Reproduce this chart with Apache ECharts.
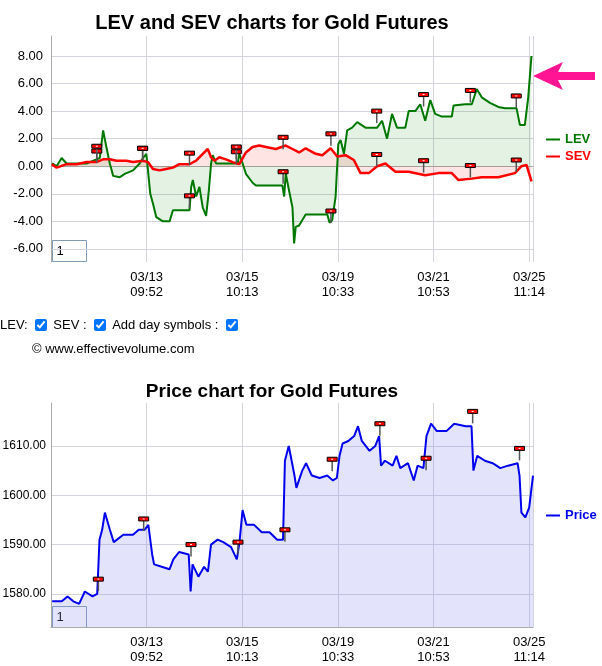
<!DOCTYPE html>
<html>
<head>
<meta charset="utf-8">
<script src="https://cdn.jsdelivr.net/npm/echarts@6/dist/echarts.min.js"></script>
<style>
body { margin: 0; background: #fff; font-family: "Liberation Sans", sans-serif; }
#chart { width: 602px; height: 666px; }
#ctrl { position: absolute; left: 0; top: 317px; font-size: 13px; color: #000; }
#ctrl input { margin: 0 6px 0 4px; width: 12px; height: 12px; vertical-align: -2px; }
#copy { position: absolute; left: 32px; top: 341px; font-size: 13px; }
</style>
</head>
<body>
<div id="chart"></div>
<div id="ctrl">LEV: <input type="checkbox" checked>SEV : <input type="checkbox" checked>Add day symbols : <input type="checkbox" checked></div>
<div id="copy">© www.effectivevolume.com</div>
<script>
// x axis positions are in "tick units" (0 = left edge, 1 = 03/13 ...)
const tickLabels = ['03/13\n09:52', '03/15\n10:13', '03/19\n10:33', '03/21\n10:53', '03/25\n11:14'];
const levTicks = [-6, -4, -2, 0, 2, 4, 6, 8];
const priceTicks = [1580, 1590, 1600, 1610];

const levX = [0.01,0.059,0.111,0.163,0.268,0.372,0.476,0.51,0.545,0.573,0.615,0.65,0.719,0.771,0.858,0.927,0.962,0.997,1.014,1.038,1.066,1.101,1.17,1.24,1.275,1.344,1.448,1.466,1.483,1.518,1.552,1.587,1.622,1.65,1.674,1.691,1.726,1.83,1.9,1.952,1.969,2.004,2.038,2.108,2.143,2.247,2.42,2.438,2.455,2.49,2.525,2.542,2.559,2.594,2.663,2.889,2.913,2.941,2.976,3.004,3.028,3.063,3.097,3.149,3.202,3.288,3.41,3.462,3.514,3.566,3.618,3.705,3.74,3.809,3.861,3.913,3.966,4.017,4.087,4.191,4.209,4.33,4.4,4.452,4.504,4.59,4.677,4.747,4.868,4.903,4.955,4.99,5.024];
const levY = [0.2,0.0,0.6,0.2,0.2,0.2,0.5,0.6,2.6,1.6,0.2,-0.7,-0.8,-0.55,-0.3,0.2,0.6,0.9,-0.3,-2.0,-2.7,-3.7,-4.0,-4.0,-3.2,-3.2,-3.2,-1.5,-1.0,-2.2,-1.5,-3.0,-3.6,-1.8,0.2,0.8,0.2,0.2,0.2,0.2,0.9,0.2,-0.55,-1.2,-1.4,-1.4,-1.4,-2.2,-0.55,-1.8,-3.0,-5.6,-4.4,-4.3,-3.5,-3.5,-4.1,-3.9,-2.2,1.6,1.9,0.9,2.6,2.8,3.2,2.8,2.8,3.3,2.0,3.8,2.8,2.8,4.0,4.0,4.5,3.3,4.8,3.8,3.6,3.6,4.4,4.5,4.5,5.6,5.0,4.6,4.3,4.2,4.2,3.0,3.0,5.0,8.0];

const sevX = [0.007,0.059,0.163,0.268,0.372,0.476,0.545,0.615,0.684,0.788,0.858,0.962,1.014,1.066,1.135,1.205,1.275,1.344,1.448,1.518,1.587,1.639,1.674,1.709,1.76,1.83,1.9,1.969,2.038,2.108,2.177,2.247,2.351,2.455,2.525,2.594,2.663,2.768,2.837,2.924,2.993,3.08,3.167,3.236,3.323,3.41,3.497,3.601,3.74,3.913,4.052,4.191,4.261,4.4,4.504,4.677,4.851,4.92,4.972,5.024];
const sevY = [0.15,-0.1,0.15,0.15,0.3,0.3,0.5,0.5,0.4,0.4,0.3,0.4,0.3,-0.2,-0.3,-0.2,-0.1,0.15,0.15,0.4,0.9,1.25,0.65,0.4,0.65,0.5,0.3,0.15,1.0,1.4,1.5,1.4,1.25,1.5,1.25,1.0,1.3,0.9,0.8,1.3,0.7,0.8,0.45,-0.5,-0.5,0,0.2,-0.4,-0.4,-0.65,-0.5,-0.5,-1.0,-0.9,-0.8,-0.8,-0.5,0,0.1,-1.1];

const priceX = [0.012,0.113,0.173,0.233,0.294,0.354,0.434,0.483,0.507,0.535,0.563,0.616,0.656,0.756,0.857,0.917,0.978,1.018,1.058,1.078,1.158,1.239,1.279,1.339,1.44,1.46,1.48,1.541,1.601,1.641,1.673,1.742,1.802,1.883,1.943,1.971,2.003,2.043,2.124,2.204,2.285,2.365,2.426,2.446,2.486,2.546,2.566,2.627,2.667,2.727,2.808,2.888,2.948,2.989,3.017,3.049,3.109,3.17,3.21,3.25,3.331,3.391,3.431,3.451,3.492,3.572,3.612,3.652,3.733,3.793,3.833,3.894,3.926,3.974,4.035,4.135,4.216,4.336,4.397,4.417,4.457,4.537,4.618,4.698,4.779,4.879,4.899,4.919,4.96,5.0,5.04];
const priceY = [1578.5,1578.5,1579.5,1578.5,1578,1580.5,1579.5,1580,1591,1593,1596.5,1593,1590.5,1592,1592,1593,1593,1594,1588,1586,1585.5,1585,1587,1588.5,1588,1580.5,1586,1583.5,1585.5,1584.5,1590,1591,1590.5,1589.5,1587,1590.5,1597,1594,1594,1592.5,1592.5,1591,1591,1607,1610,1604,1601.5,1605,1606.5,1604,1603.5,1604,1603,1603.5,1608,1610.5,1611,1612,1614,1611,1609,1610,1612,1606,1607,1606,1608,1605.5,1606.5,1603,1606,1605.5,1612,1614.5,1613,1613,1614.5,1614,1614,1605,1608,1607,1606.5,1605.5,1606,1606.5,1604,1596.5,1595.5,1597.5,1604];

// day symbols
const levFlags = [[0.479,1.1],[0.958,1.3],[1.448,-2.15],[1.938,1.05],[2.427,-0.4],[2.927,-3.25],[3.406,4.0],[3.896,5.2],[4.385,5.5],[4.865,5.1]];
const sevFlags = [[0.479,1.45],[0.958,1.3],[1.448,0.95],[1.938,1.4],[2.427,2.1],[2.927,2.35],[3.406,0.85],[3.896,0.4],[4.385,0.05],[4.865,0.45]];
const priceFlags = [[0.495,1583],[0.969,1595.2],[1.464,1590],[1.955,1590.5],[2.446,1593],[2.94,1607.3],[3.439,1614.5],[3.922,1607.5],[4.409,1617],[4.899,1609.5]];

const zip = (xs, ys) => xs.map((x, i) => [x, ys[i]]);

function flagItem(params, api) {
    const p = api.coord([api.value(0), api.value(1)]);
    return {
        type: 'group',
        children: [
            { type: 'line', shape: { x1: p[0], y1: p[1], x2: p[0], y2: p[1] + 12 }, style: { stroke: '#555', lineWidth: 1.5 } },
            { type: 'rect', shape: { x: p[0] - 5, y: p[1] - 2, width: 10, height: 4 }, style: { fill: '#ff0000', stroke: '#000', lineWidth: 1 } },
            { type: 'rect', shape: { x: p[0] - 1, y: p[1] - 0.5, width: 2, height: 1 }, style: { fill: '#fff' } }
        ]
    };
}

function xAxis(gridIndex) {
    return {
        type: 'value', gridIndex, min: 0, max: 5.04, interval: 1,
        axisLine: { lineStyle: { color: '#aaa' } },
        axisTick: { show: false },
        splitLine: { show: true, lineStyle: { color: '#d4d4dc' } },
        axisLabel: { color: '#000', fontSize: 13, lineHeight: 15, fontFamily: 'Liberation Sans',
            formatter: v => (v >= 1 ? tickLabels[v - 1] : ''), showMaxLabel: false }
    };
}

function yAxis(gridIndex, min, max, ticks, size, margin) {
    return {
        type: 'value', gridIndex, min, max,
        axisLine: { show: true, lineStyle: { color: '#aaa' } },
        axisTick: { show: false, customValues: ticks },
        splitLine: { show: true, lineStyle: { color: '#d4d4dc' } },
        axisLabel: { customValues: ticks, color: '#000', fontSize: size, margin, fontFamily: 'Liberation Sans',
            formatter: v => v.toFixed(2) }
    };
}

const chartObj = echarts.init(document.getElementById('chart'));
chartObj.setOption({
    animation: false,
    title: [
        { text: 'LEV and SEV charts for Gold Futures', left: 267, top: 8, textAlign: 'center',
          textStyle: { fontSize: 20, fontWeight: 'bold', color: '#000', fontFamily: 'Liberation Sans' } },
        { text: 'Price chart for Gold Futures', left: 267, top: 377, textAlign: 'center',
          textStyle: { fontSize: 19, fontWeight: 'bold', color: '#000', fontFamily: 'Liberation Sans' } }
    ],
    legend: [
        { data: [{ name: 'LEV', textStyle: { color: '#007700' } }, { name: 'SEV', textStyle: { color: '#ff0000' } }],
          orient: 'vertical', left: 540, top: 128, itemWidth: 14, itemHeight: 2, itemGap: 4, selectedMode: false,
          textStyle: { fontWeight: 'bold', fontSize: 13, fontFamily: 'Liberation Sans' } },
        { data: [{ name: 'Price', textStyle: { color: '#0000ee' } }],
          left: 540, top: 504, itemWidth: 14, itemHeight: 2, selectedMode: false,
          textStyle: { fontWeight: 'bold', fontSize: 13, fontFamily: 'Liberation Sans' } }
    ],
    grid: [
        { left: 51, right: 69, top: 36, height: 226, outerBoundsMode: 'none' },
        { left: 51, right: 69, top: 403, height: 224, outerBoundsMode: 'none' }
    ],
    xAxis: [xAxis(0), xAxis(1)],
    yAxis: [yAxis(0, -6.95, 9.45, levTicks, 13, 8), yAxis(1, 1573.3, 1618.7, priceTicks, 12, 5)],
    series: [
        { name: 'LEV', type: 'line', xAxisIndex: 0, yAxisIndex: 0, data: zip(levX, levY), showSymbol: false, symbol: 'none',
          lineStyle: { color: '#007700', width: 2 }, itemStyle: { color: '#007700' },
          areaStyle: { color: 'rgba(0,128,0,0.15)' } },
        { name: 'SEV', type: 'line', xAxisIndex: 0, yAxisIndex: 0, data: zip(sevX, sevY), showSymbol: false, symbol: 'none',
          lineStyle: { color: '#ff0000', width: 2.5 }, itemStyle: { color: '#ff0000' },
          areaStyle: { color: 'rgba(255,0,0,0.15)' } },
        { type: 'custom', xAxisIndex: 0, yAxisIndex: 0, data: levFlags.concat(sevFlags), renderItem: flagItem, z: 5 },
        { name: 'Price', type: 'line', xAxisIndex: 1, yAxisIndex: 1, data: zip(priceX, priceY), showSymbol: false, symbol: 'none',
          lineStyle: { color: '#0000ee', width: 2 }, itemStyle: { color: '#0000ee' },
          areaStyle: { color: 'rgba(140,140,240,0.35)', origin: 'start' } },
        { type: 'custom', xAxisIndex: 1, yAxisIndex: 1, data: priceFlags, renderItem: flagItem, z: 5 }
    ],
    graphic: [
        { type: 'group', left: 52, top: 240, children: [
            { type: 'rect', shape: { width: 34, height: 21 }, style: { fill: '#fff', stroke: '#7f9db9' } },
            { type: 'text', x: 4, y: 4, style: { text: '1', fontSize: 13, fill: '#000' } } ] },
        { type: 'group', left: 52, top: 606, children: [
            { type: 'rect', shape: { width: 34, height: 21 }, style: { fill: '#fff', stroke: '#7f9db9' } },
            { type: 'text', x: 4, y: 4, style: { text: '1', fontSize: 13, fill: '#000' } } ] },
        { type: 'polygon', shape: { points: [[533, 76], [563, 62], [558, 72], [595, 72], [595, 80], [558, 80], [563, 90]] },
          style: { fill: '#ff1493' } }
    ]
});
</script>
</body>
</html>
